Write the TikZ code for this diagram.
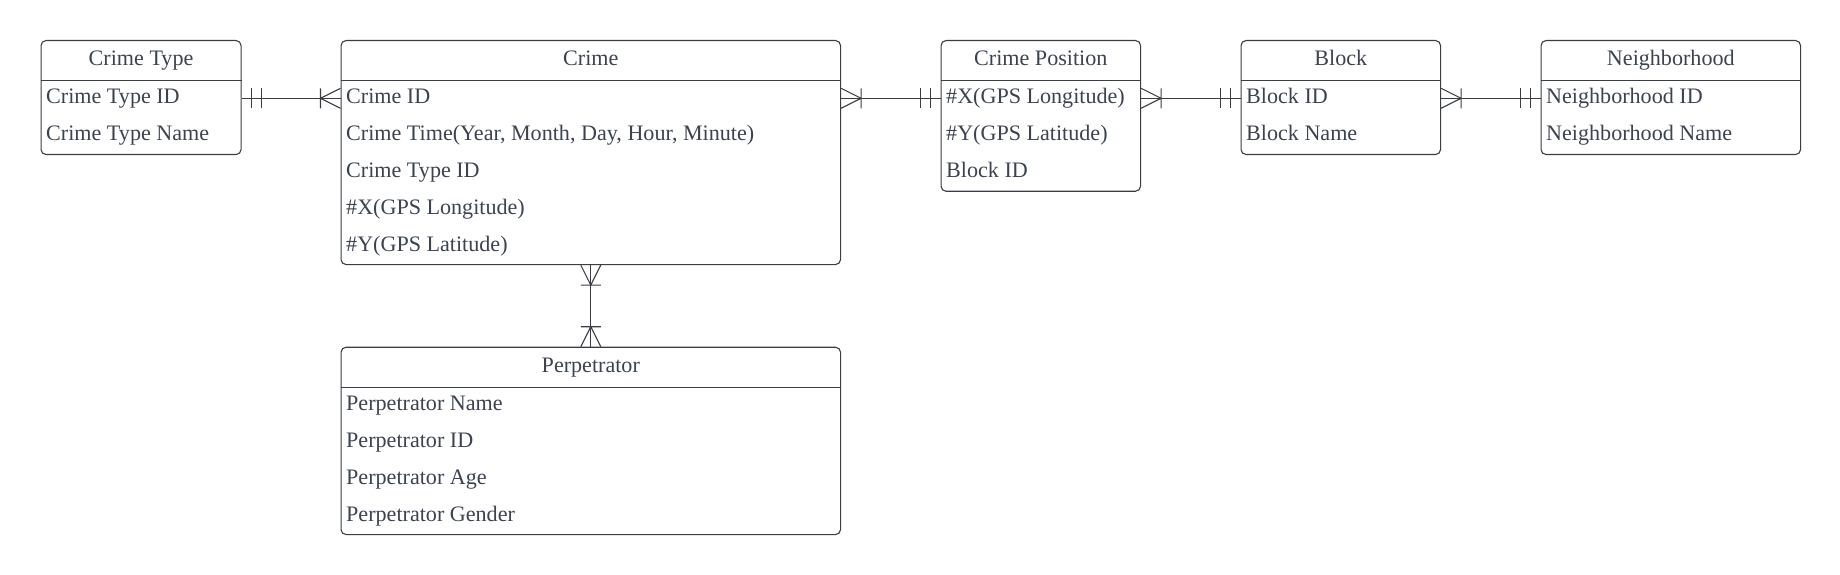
\documentclass[tikz,border=0pt]{standalone}
\usepackage{fontspec}
\setmainfont{Liberation Serif}
\usetikzlibrary{calc}
\definecolor{erline}{HTML}{3A3D42}
\definecolor{ertext}{HTML}{3B4350}
\tikzset{
	entity/.style={draw=erline, line width=1.1pt, rounded corners=5pt, anchor=north west, inner sep=0pt},
	title/.style={anchor=base, text=ertext, inner sep=0pt, font=\fontsize{22.1}{26}\selectfont},
	field/.style={anchor=base west, text=ertext, inner sep=0pt, font=\fontsize{22.1}{26}\selectfont},
	rel/.style={draw=erline, line width=1.1pt},
}
% cardinality marks, drawn outwards from a box edge
\newcommand{\markone}[2]{\draw[rel, shift={(#1)}, rotate=#2] (10,-10) -- (10,10) (20,-10) -- (20,10);}
\newcommand{\markmany}[2]{\draw[rel, shift={(#1)}, rotate=#2] (0,10) -- (20,0) -- (0,-10) (20,-10) -- (20,10);}

\begin{document}
\begin{tikzpicture}[x=1pt, y=1pt]
	\useasboundingbox (0,0) rectangle (1840,-575);
	% entities
	\node[entity, minimum width=200, minimum height=114] (ctype) at (40.5,-40) {};
	\node[entity, minimum width=499.5, minimum height=224] (crime) at (340.5,-40) {};
	\node[entity, minimum width=199.5, minimum height=150.7] (cpos) at (940.5,-40) {};
	\node[entity, minimum width=199.5, minimum height=114] (block) at (1240.5,-40) {};
	\node[entity, minimum width=259.5, minimum height=114] (nbhd) at (1540.5,-40) {};
	\node[entity, minimum width=499.5, minimum height=187.3] (perp) at (340.5,-346.7) {};
	% header lines
	\draw[rel] ($(ctype.north west)+(0,-40.7)$) -- ($(ctype.north east)+(0,-40.7)$);
	\draw[rel] ($(crime.north west)+(0,-40.7)$) -- ($(crime.north east)+(0,-40.7)$);
	\draw[rel] ($(cpos.north west)+(0,-40.7)$) -- ($(cpos.north east)+(0,-40.7)$);
	\draw[rel] ($(block.north west)+(0,-40.7)$) -- ($(block.north east)+(0,-40.7)$);
	\draw[rel] ($(nbhd.north west)+(0,-40.7)$) -- ($(nbhd.north east)+(0,-40.7)$);
	\draw[rel] ($(perp.north west)+(0,-40.7)$) -- ($(perp.north east)+(0,-40.7)$);
	% titles
	\node[title] (ctypeT) at ($(ctype.north)+(0,-25.3)$) {Crime Type};
	\node[title] (crimeT) at ($(crime.north)+(0,-25.3)$) {Crime};
	\node[title] (cposT) at ($(cpos.north)+(0,-25.3)$) {Crime Position};
	\node[title] (blockT) at ($(block.north)+(0,-25.3)$) {Block};
	\node[title] (nbhdT) at ($(nbhd.north)+(0,-25.3)$) {Neighborhood};
	\node[title] (perpT) at ($(perp.north)+(0,-25.3)$) {Perpetrator};
	% fields
	\node[field] (ctype1) at ($(ctype.north west)+(5.5,-63.6)$) {Crime Type ID};
	\node[field] (ctype2) at ($(ctype1.base west)+(0,-36.9)$) {Crime Type Name};
	\node[field] (crime1) at ($(crime.north west)+(5.5,-63.6)$) {Crime ID};
	\node[field] (crime2) at ($(crime1.base west)+(0,-36.9)$) {Crime Time(Year, Month, Day, Hour, Minute)};
	\node[field] (crime3) at ($(crime2.base west)+(0,-36.9)$) {Crime Type ID};
	\node[field] (crime4) at ($(crime3.base west)+(0,-36.9)$) {\#X(GPS Longitude)};
	\node[field] (crime5) at ($(crime4.base west)+(0,-36.9)$) {\#Y(GPS Latitude)};
	\node[field] (cpos1) at ($(cpos.north west)+(5.5,-63.6)$) {\#X(GPS Longitude)};
	\node[field] (cpos2) at ($(cpos1.base west)+(0,-36.9)$) {\#Y(GPS Latitude)};
	\node[field] (cpos3) at ($(cpos2.base west)+(0,-36.9)$) {Block ID};
	\node[field] (block1) at ($(block.north west)+(5.5,-63.6)$) {Block ID};
	\node[field] (block2) at ($(block1.base west)+(0,-36.9)$) {Block Name};
	\node[field] (nbhd1) at ($(nbhd.north west)+(5.5,-63.6)$) {Neighborhood ID};
	\node[field] (nbhd2) at ($(nbhd1.base west)+(0,-36.9)$) {Neighborhood Name};
	\node[field] (perp1) at ($(perp.north west)+(5.5,-63.6)$) {Perpetrator Name};
	\node[field] (perp2) at ($(perp1.base west)+(0,-36.9)$) {Perpetrator ID};
	\node[field] (perp3) at ($(perp2.base west)+(0,-36.9)$) {Perpetrator Age};
	\node[field] (perp4) at ($(perp3.base west)+(0,-36.9)$) {Perpetrator Gender};
	% connector ends
	\coordinate (ctypeR) at ($(ctype.north east)+(0,-58.3)$);
	\coordinate (crimeL) at ($(crime.north west)+(0,-58.3)$);
	\coordinate (crimeR) at ($(crime.north east)+(0,-58.3)$);
	\coordinate (cposL) at ($(cpos.north west)+(0,-58.3)$);
	\coordinate (cposR) at ($(cpos.north east)+(0,-58.3)$);
	\coordinate (blockL) at ($(block.north west)+(0,-58.3)$);
	\coordinate (blockR) at ($(block.north east)+(0,-58.3)$);
	\coordinate (nbhdL) at ($(nbhd.north west)+(0,-58.3)$);
	% relations
	\draw[rel] (ctypeR) -- (crimeL);
	\markone{ctypeR}{0}
	\markmany{crimeL}{180}
	\draw[rel] (crimeR) -- (cposL);
	\markmany{crimeR}{0}
	\markone{cposL}{180}
	\draw[rel] (cposR) -- (blockL);
	\markmany{cposR}{0}
	\markone{blockL}{180}
	\draw[rel] (blockR) -- (nbhdL);
	\markmany{blockR}{0}
	\markone{nbhdL}{180}
	\draw[rel] (crime.south) -- (perp.north);
	\markmany{crime.south}{-90}
	\markmany{perp.north}{90}
\end{tikzpicture}
\end{document}
